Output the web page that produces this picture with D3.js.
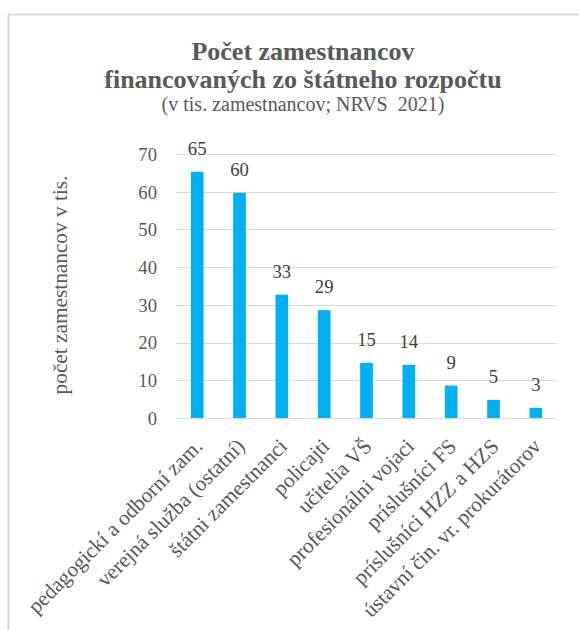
<!DOCTYPE html>
<html>
<head>
<meta charset="utf-8">
<script src="https://cdn.jsdelivr.net/npm/d3@7"></script>
<style>
  html, body { margin: 0; padding: 0; background: #ffffff; }
  svg { display: block; }
  text { font-family: "Liberation Serif", "Times New Roman", serif; }
</style>
</head>
<body>
<svg id="chart" width="579" height="630"></svg>
<script>
// ---- data ----
const categories = [
  "pedagogickí a odborní zam.",
  "verejná služba (ostatní)",
  "štátni zamestnanci",
  "policajti",
  "učitelia VŠ",
  "profesionálni vojaci",
  "príslušníci FS",
  "príslušníci HZZ a HZS",
  "ústavní čin. vr. prokurátorov"
];
const values = [65.3, 59.7, 32.7, 28.6, 14.6, 14.1, 8.6, 4.8, 2.7];
const yTicks = [0, 10, 20, 30, 40, 50, 60, 70];
const titleLines = ["Počet zamestnancov", "financovaných zo štátneho rozpočtu"];
const subtitle = "(v tis. zamestnancov; NRVS\u00a0 2021)";
const yAxisTitle = "počet zamestnancov v tis.";

// ---- layout ----
const svg = d3.select("#chart");
const plot = { left: 176, right: 557, top: 154, bottom: 418 };

// chart frame (right/bottom edges fall outside the picture)
svg.append("rect")
  .attr("x", 8.5).attr("y", 14.5)
  .attr("width", 640).attr("height", 700)
  .attr("fill", "#ffffff")
  .attr("stroke", "#d9d9d9").attr("stroke-width", 2);

const x = d3.scaleBand().domain(categories).range([plot.left, plot.right]).paddingInner(0.7).paddingOuter(0.35);
const y = d3.scaleLinear().domain([0, 70]).range([plot.bottom, plot.top]);

// gridlines
svg.append("g").selectAll("line").data(yTicks).join("line")
  .attr("x1", plot.left).attr("x2", plot.right)
  .attr("y1", d => Math.round(y(d)) + 0.5).attr("y2", d => Math.round(y(d)) + 0.5)
  .attr("stroke", "#d9d9d9").attr("stroke-width", 1);

// y axis (labels only)
const yAxis = d3.axisLeft(y).tickValues(yTicks).tickSize(0).tickPadding(0);
const gy = svg.append("g").attr("transform", `translate(${plot.left - 19},0)`).call(yAxis);
gy.select(".domain").remove();
gy.selectAll("text")
  .attr("font-family", "Liberation Serif, Times New Roman, serif")
  .attr("font-size", 18.7).attr("fill", "#595959").attr("dy", "0.34em");

// bars
svg.append("g").selectAll("rect").data(values).join("rect")
  .attr("x", (d, i) => x(categories[i]))
  .attr("width", x.bandwidth())
  .attr("y", d => y(d))
  .attr("height", d => y(0) - y(d))
  .attr("fill", "#00b0f0");

// data labels
svg.append("g").selectAll("text").data(values).join("text")
  .attr("x", (d, i) => x(categories[i]) + x.bandwidth() / 2)
  .attr("y", d => y(d) - 17)
  .attr("text-anchor", "middle")
  .attr("font-size", 18.7).attr("fill", "#404040")
  .text(d => d3.format(".0f")(d));

// x axis labels (rotated)
const xAxis = d3.axisBottom(x).tickSize(0).tickPadding(0);
const gx = svg.append("g").attr("transform", `translate(0,${plot.bottom})`).call(xAxis);
gx.select(".domain").remove();
gx.selectAll(".tick text")
  .attr("font-family", "Liberation Serif, Times New Roman, serif")
  .attr("font-size", 21.3).attr("fill", "#595959")
  .attr("text-anchor", "end")
  .attr("x", 0).attr("y", 0).attr("dy", "0.7em")
  .attr("transform", "translate(-4,19) rotate(-45)");

// y axis title
svg.append("text")
  .attr("transform", "translate(67,285) rotate(-90)")
  .attr("text-anchor", "middle")
  .attr("font-size", 21.3).attr("fill", "#595959")
  .text(yAxisTitle);

// title
const tg = svg.append("g").attr("text-anchor", "middle").attr("fill", "#595959");
tg.selectAll("text.t").data(titleLines).join("text").attr("class", "t")
  .attr("x", 303).attr("y", (d, i) => 60 + i * 27.5)
  .attr("font-size", 26).attr("font-weight", "bold")
  .text(d => d);
tg.append("text")
  .attr("x", 303).attr("y", 111)
  .attr("font-size", 20)
  .text(subtitle);
</script>
</body>
</html>
